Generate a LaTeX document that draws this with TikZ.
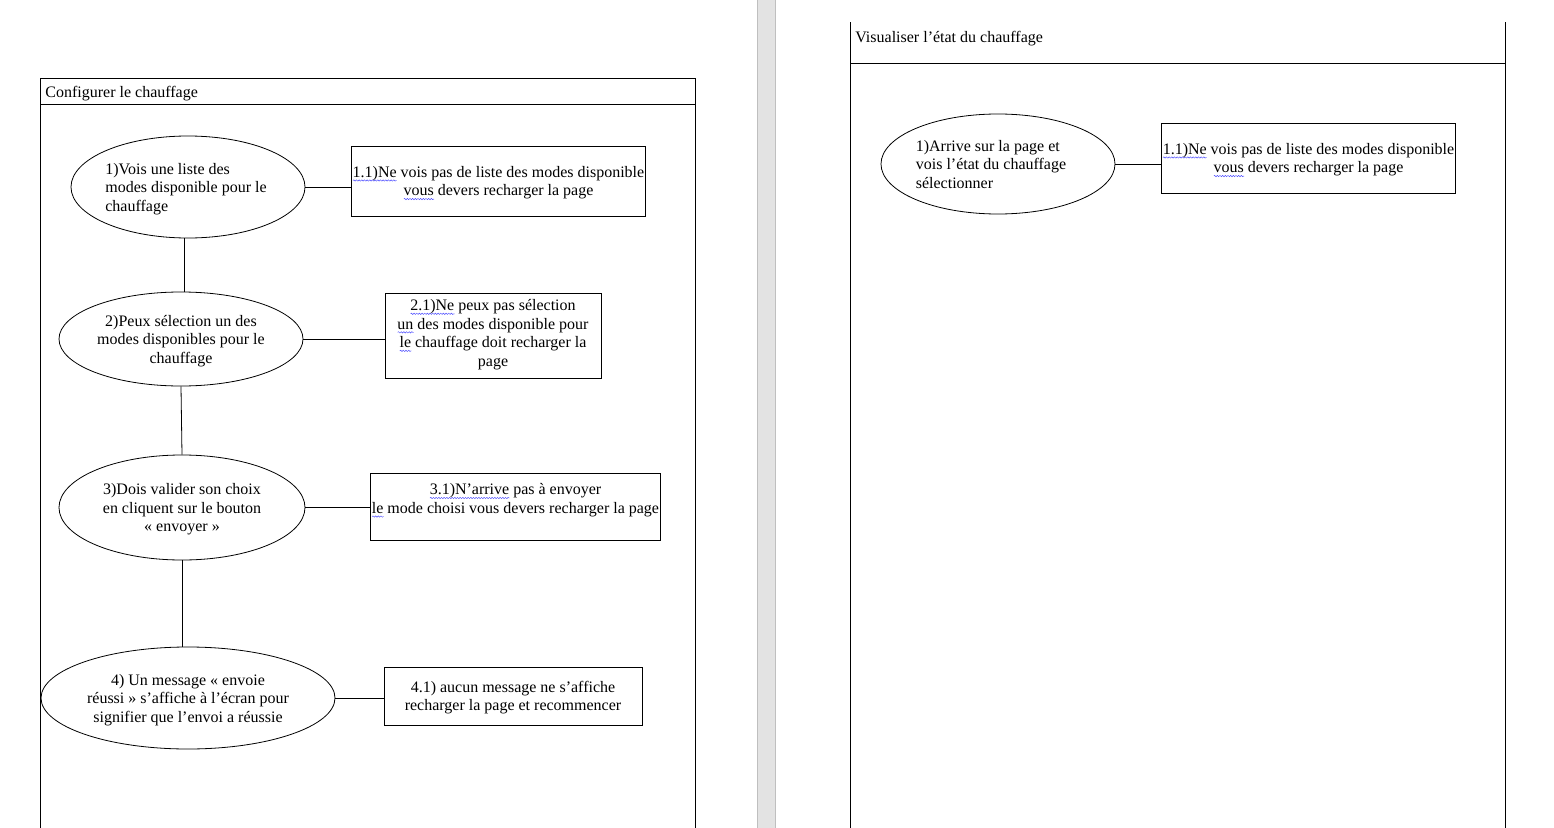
\documentclass[tikz,border=0pt]{standalone}
\usepackage{fontspec}
\setmainfont{Liberation Serif}
\usepackage{xcolor}
\usepackage{tikz}
\usetikzlibrary{shapes.geometric,positioning,decorations.pathmorphing}

% wavy spell-check underline
\newsavebox{\sqbox}
\newcommand{\squig}[1]{\sbox{\sqbox}{#1}\rlap{\tikz[baseline=0pt]\draw[blue!70, line width=0.35pt,
  decorate, decoration={snake, amplitude=0.5pt, segment length=2pt}]
  (0pt,-2.4pt) -- (\wd\sqbox,-2.4pt);}\usebox{\sqbox}}
% extra room at the end of a line
\newcommand{\padr}[1]{\makebox[#1]{}}

\begin{document}
\begin{tikzpicture}[
  x=0.75pt, y=-0.75pt,
  usecase/.style={draw, ellipse, inner sep=0pt, align=center, text depth=-4pt,
                  font=\fontsize{12}{13.9}\selectfont},
  failbox/.style={draw, rectangle, inner sep=1pt, align=center, text depth=-4.5pt,
                  font=\fontsize{12}{13.9}\selectfont},
  lanetitle/.style={anchor=west, inner sep=0pt, font=\fontsize{12}{13.9}\selectfont},
  every path/.style={line width=0.6pt}
]
  \useasboundingbox (0,0) rectangle (1554,828);

  % page gap
  \fill[gray!22] (757,0) rectangle (775,828);
  \draw[gray!50] (757,0) -- (757,828) (775,0) -- (775,828);

  % Lane: Configurer le chauffage
  \draw (40,828) |- (695,78) -- (695,828);
  \draw (40,104) -- (695,104);
  \node[lanetitle] (ttlA) at (45,94) {Configurer le chauffage};

  % Lane: Visualiser l'etat du chauffage
  \draw (850,22) -- (850,828) (1505,22) -- (1505,828);
  \draw (850,63) -- (1505,63);
  \node[lanetitle] (ttlB) at (855,39) {Visualiser l’état du chauffage};

  % Steps
  \node[usecase, align=left, minimum width=175.5pt, minimum height=76.5pt] (e1) at (188,187)
    {1)Vois une liste des\\modes disponible pour le\padr{3pt}\\chauffage};
  \node[usecase, minimum width=183pt, minimum height=70.5pt] (e2) at (181,339)
    {2)Peux sélection un des\\modes disponibles pour le\\chauffage};
  \node[usecase, minimum width=184.5pt, minimum height=78.75pt] (e3) at (182,507.5)
    {3)Dois valider son choix\\en cliquent sur le bouton\\«~envoyer~»};
  \node[usecase, minimum width=220.5pt, minimum height=76.5pt] (e4) at (188,698)
    {4) Un message «~envoie\\réussi~» s’affiche à l’écran pour\\signifier que l’envoi a réussie};
  \node[usecase, align=left, minimum width=175.5pt, minimum height=75pt] (e5) at (998,164)
    {1)Arrive sur la page et\\vois l’état du chauffage\padr{10.5pt}\\sélectionner};

  % Alternatives
  \node[failbox, minimum width=219.75pt, minimum height=52.5pt] (b1) at (498.5,181)
    {\squig{1.1)Ne} vois pas de liste des modes disponible\\\squig{vous} devers recharger la page};
  \node[failbox, minimum width=162pt, minimum height=63.75pt, text depth=4pt] (b2) at (493,335.5)
    {\squig{2.1)Ne} peux pas sélection\\\squig{un} des modes disponible pour\\\squig{le} chauffage doit recharger la\\page};
  \node[failbox, minimum width=216.75pt, minimum height=50.25pt, text depth=12pt] (b3) at (515.5,506.5)
    {\squig{3.1)N’arrive} pas à envoyer\\\squig{le} mode choisi vous devers recharger la page};
  \node[failbox, minimum width=193.5pt, minimum height=43.5pt] (b4) at (513,696)
    {4.1) aucun message ne s’affiche\\recharger la page et recommencer};
  \node[failbox, minimum width=219.75pt, minimum height=52.5pt, text depth=-2.5pt] (b5) at (1308.5,158)
    {\squig{1.1)Ne} vois pas de liste des modes disponible\\\squig{vous} devers recharger la page};

  % Links
  \draw ([xshift=-3pt]e1.south) -- ([xshift=-3pt]e1.south |- e2.north);
  \draw (e2.south) -- (e3.north);
  \draw (e3.south) -- (e3.south |- e4.north);
  \draw (e1.east) -- (e1.east -| b1.west);
  \draw (e2.east) -- (e2.east -| b2.west);
  \draw (e3.east) -- (e3.east -| b3.west);
  \draw (e4.east) -- (e4.east -| b4.west);
  \draw (e5.east) -- (e5.east -| b5.west);
\end{tikzpicture}
\end{document}
